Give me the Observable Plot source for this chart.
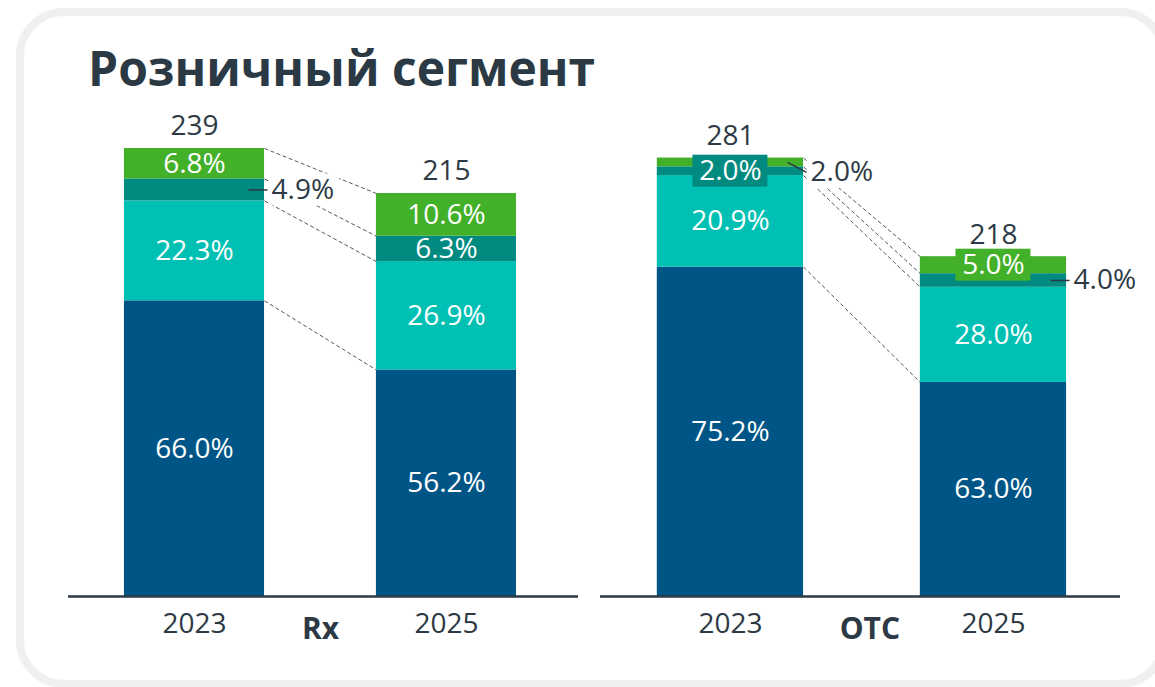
<!DOCTYPE html>
<html><head><meta charset="utf-8">
<script src="https://cdn.jsdelivr.net/npm/d3@7"></script>
<script src="https://cdn.jsdelivr.net/npm/@observablehq/plot@0.6"></script>
<style>
html,body{margin:0;padding:0;background:#fff;width:1155px;height:687px;overflow:hidden;font-family:'Open Sans',sans-serif;}
#card{position:absolute;left:16px;top:8px;width:1152px;height:680px;box-sizing:border-box;border:8px solid #f0f0f0;border-radius:48px;}
#title{position:absolute;left:88px;top:44px;font-weight:700;font-size:48px;line-height:1;color:#2b3945;margin:0;white-space:nowrap;}
.panel{position:absolute;top:100px;}
</style>
</head><body>
<div id="card"></div>
<h1 id="title">Розничный сегмент</h1>
<div id="rx" class="panel" style="left:40px"></div>
<div id="otc" class="panel" style="left:590px"></div>
<script>
// ---- data ----
const years = ["2023", "2025"];
const panelLabels = ["Rx", "OTC"];
const rxTotals = [239, 215];
const rxShare1 = [66.0, 56.2];
const rxShare2 = [22.3, 26.9];
const rxShare3 = [4.9, 6.3];
const rxShare4 = [6.8, 10.6];
const otcTotals = [281, 218];
const otcShare1 = [75.2, 63.0];
const otcShare2 = [20.9, 28.0];
const otcShare3 = [2.0, 4.0];
const otcShare4 = [2.0, 5.0];

// ---- style ----
const colors = ["#005587", "#00BFB3", "#008A80", "#43B02A"];
const dark = "#2d3a45";
const H = 0.278; // half bar width in x units
const HEIGHT = 570, MB = 74;

function buildRows(totals, shares) {
  const rows = [];
  years.forEach((year, i) => {
    let acc = 0;
    shares.forEach((s, k) => {
      const v = totals[i] * s[i] / 100;
      rows.push({i, year, k, share: s[i], y1: acc, y2: acc + v, mid: acc + v / 2});
      acc += v;
    });
  });
  return rows;
}
const fmt = d => d.share.toFixed(1) + "%";

function drawPanel(cfg) {
  const rows = buildRows(cfg.totals, cfg.shares);
  const kx = (cfg.width - cfg.marginLeft - cfg.marginRight) / (cfg.xDomain[1] - cfg.xDomain[0]);
  const ky = (HEIGHT - MB - cfg.marginTop) / d3.max(cfg.totals);
  rows.forEach(d => {
    const p = cfg.place[d.i + "-" + d.k] || {type: "in"};
    d.type = p.type;
    d.ly = d.mid - (p.shiftPx || 0) / ky; // positive shiftPx moves label down on screen
  });
  const inRows = rows.filter(d => d.type === "in");
  const boxRows = rows.filter(d => d.type === "box");
  const outRows = rows.filter(d => d.type === "out");
  const connectors = cfg.shares.map((s, k) => ({
    a: rows.find(d => d.i === 0 && d.k === k).y2,
    b: rows.find(d => d.i === 1 && d.k === k).y2
  }));
  const totalRows = cfg.totals.map((t, i) => ({i, total: t}));
  const leadEnd = d => d.i + H + 3 / kx;

  const plot = Plot.plot({
    width: cfg.width, height: HEIGHT,
    marginLeft: cfg.marginLeft, marginRight: cfg.marginRight,
    marginTop: cfg.marginTop, marginBottom: MB,
    x: {type: "linear", domain: cfg.xDomain, axis: null, label: null},
    y: {domain: [0, d3.max(cfg.totals)], axis: null},
    style: {fontFamily: "'Open Sans', sans-serif", fontSize: "28px", color: dark, background: "transparent", overflow: "visible"},
    marks: [
      Plot.rect(rows, {x1: d => d.i - H, x2: d => d.i + H, y1: "y1", y2: "y2", fill: d => colors[d.k]}),
      Plot.link(connectors, {x1: () => H, x2: () => 1 - H, y1: "a", y2: "b", stroke: "#3c4650", strokeWidth: 0.9, strokeDasharray: "4 2.5"}),
      Plot.ruleY([0], {stroke: dark, strokeWidth: 2.5}),
      Plot.link(outRows, {x1: d => d.i + H - 16 / kx, x2: leadEnd, y1: "mid", y2: "ly", stroke: dark, strokeWidth: 1.5}),
      Plot.rect(outRows, {x1: d => leadEnd(d) + 2 / kx, x2: d => leadEnd(d) + 72 / kx, y1: d => d.ly - 16 / ky, y2: d => d.ly + 16 / ky, fill: "white"}),
      Plot.rect(boxRows, {x1: d => d.i - 37.5 / kx, x2: d => d.i + 37.5 / kx, y1: d => d.mid - 16 / ky, y2: d => d.mid + 16 / ky, fill: d => colors[d.k]}),
      Plot.text(inRows, {x: "i", y: "mid", text: fmt, fill: "white"}),
      Plot.text(boxRows, {x: "i", y: "mid", text: fmt, fill: "white"}),
      Plot.text(outRows, {x: leadEnd, y: "ly", dx: 4, textAnchor: "start", text: fmt, fill: dark}),
      Plot.text(totalRows, {x: "i", y: "total", dy: -22, text: d => String(d.total), fill: dark}),
      Plot.axisX({ticks: [0, 1], tickFormat: i => years[i], tickSize: 0, tickPadding: 17, label: null}),
      Plot.text([cfg.label], {x: () => cfg.labelX, frameAnchor: "bottom", dy: 42, text: d => d, fontWeight: 700, fontSize: 30, fill: dark})
    ]
  });
  document.getElementById(cfg.id).appendChild(plot);
}

drawPanel({
  id: "rx", label: panelLabels[0], totals: rxTotals,
  shares: [rxShare1, rxShare2, rxShare3, rxShare4],
  width: 550, marginLeft: 28, marginRight: 12, marginTop: 48,
  xDomain: [-0.5, 1.524], labelX: 0.5,
  place: {"0-2": {type: "out"}}
});
drawPanel({
  id: "otc", label: panelLabels[1], totals: otcTotals,
  shares: [otcShare1, otcShare2, otcShare3, otcShare4],
  width: 560, marginLeft: 10, marginRight: 30, marginTop: 58,
  xDomain: [-0.494, 1.483], labelX: 0.53,
  place: {"0-2": {type: "box"}, "0-3": {type: "out", shiftPx: 10}, "1-3": {type: "box"}, "1-2": {type: "out"}}
});
</script>
</body></html>
